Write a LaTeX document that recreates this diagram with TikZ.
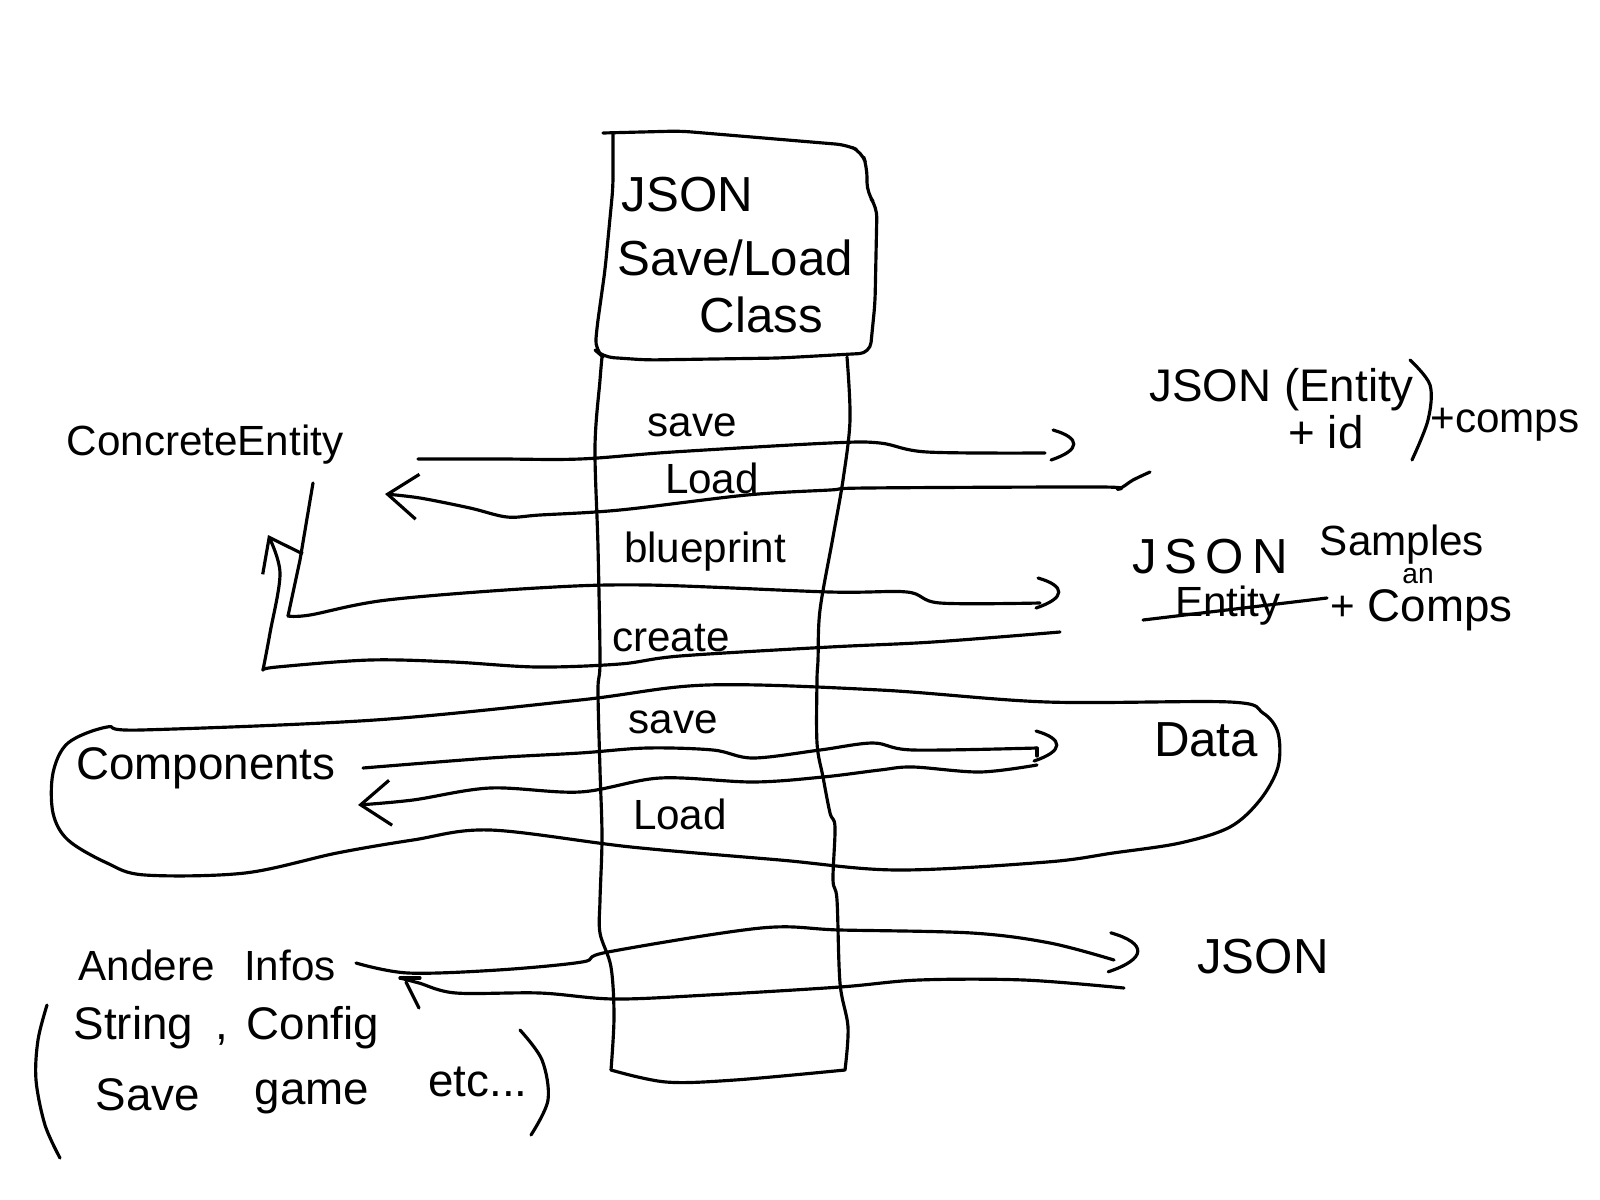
\documentclass[tikz,border=0pt]{standalone}
\usepackage{fontspec}
\setmainfont{Liberation Sans}
\usetikzlibrary{arrows.meta}
\begin{document}
\begin{tikzpicture}[x=0.01cm,y=-0.01cm,line width=0.9pt,line cap=round,line join=round,
  lbl/.style={inner sep=0pt,font=\fontsize{13}{15}\selectfont},
  big/.style={inner sep=0pt,font=\fontsize{14}{16}\selectfont},
  small/.style={inner sep=0pt,font=\fontsize{12}{14}\selectfont},
  tiny/.style={inner sep=0pt,font=\fontsize{8}{9}\selectfont},
  larr/.style={-{Straight Barb[length=3mm,width=4.5mm]}},
  wob/.style={smooth,tension=0.55},
  rhead/.pic={\draw (-24,-14) .. controls (4,-6) and (4,6) .. (-26,16);}]
\useasboundingbox (0,0) rectangle (1600,1200);
\fill[white] (0,0) rectangle (1600,1200);

% ---------- JSON Save/Load class box ----------
\draw[rounded corners=3pt] (603,133) -- (680,131) -- (847,145) -- (862,152) -- (867,167) -- (867,193) -- (877,207) -- (875,303) -- (870,353) -- (780,358) -- (647,360) -- (603,357) -- (595,350) -- (597,327) -- (605,270) -- (613,187) -- (613,135);
\node[big,anchor=west] (tj) at (620,195) {JSON};
\node[big,anchor=west] (ts) at (616,258) {Save/Load};
\node[big,anchor=west] (tc) at (698,315) {Class};

% ---------- column ----------
\draw plot[wob] coordinates {(602,357) (600,380) (595,447) (598,547) (600,660) (598,690) (600,770) (602,837) (600,900) (600,933) (611,967) (614,1017) (611,1070)};
\draw plot[wob] coordinates {(611,1070) (666,1082) (735,1080) (845,1070)};
\draw plot[wob] coordinates {(845,1070) (848,1027) (840,983) (837,900) (833,880) (835,827) (830,813) (823,777) (817,743) (817,680) (818,660) (820,610) (833,537) (843,480) (850,420) (847,357)};

\node[small] (csave1) at (692,425) {save};
\node[small] (cload1) at (712,478) {Load};
\node[small] (cblue) at (705,552) {blueprint};
\node[small] (ccreate) at (671,638) {create};
\node[small] (csave2) at (673,722) {save};
\node[small] (cload2) at (680,814) {Load};

% ---------- left labels ----------
\node[small] (ce) at (205,445) {ConcreteEntity};
\node[lbl] (comp) at (206,768) {Components};
\node[small,anchor=west] (andere) at (77,965) {Andere\hspace{0.7em}Infos};
\node[lbl,anchor=west] (string) at (72,1028) {String\hspace{0.5em},\hspace{0.4em}Config};
\node[lbl] (savew) at (148,1095) {Save};
\node[lbl] (gamew) at (312,1097) {game};
\node[lbl] (etcw) at (478,1082) {etc...};
\draw plot[wob] coordinates {(47,1005) (38,1040) (36,1080) (45,1125) (60,1158)};
\draw plot[wob] coordinates {(520,1030) (542,1060) (548,1100) (531,1135)};

% ---------- right labels ----------
\node[lbl,anchor=west] (je) at (1148,390) {JSON (Entity};
\node[lbl] (jid) at (1326,432) {+ id};
\draw plot[wob] coordinates {(1410,360) (1430,385) (1428,420) (1412,460)};
\node[small] (jcomps) at (1505,425) {+comps};

\node[big] (js) at (1210,557) {J\,S\,O\,N};
\node[small] (samples) at (1402,545) {Samples};
\node[small] (ent) at (1228,606) {Entity};
\draw (1143,620) -- (1327,598);
\node[small] (plus) at (1343,608) {+};
\node[lbl] (comps2) at (1440,610) {Comps};
\node[tiny] (an) at (1418,576) {an};

\node[big] (data) at (1206,740) {Data};
\node[big] (jb) at (1263,957) {JSON};

% ---------- named ends ----------
\coordinate (a1s) at (418,459);
\coordinate (a1e) at (1045,453);
\coordinate (a2s) at (1150,472);
\coordinate (a2e) at (385,494);
\coordinate (a3s) at (313,483);
\coordinate (a3c) at (288,616);
\coordinate (a3e) at (1040,603);
\coordinate (a4s) at (1060,632);
\coordinate (a4c) at (263,670);
\coordinate (a4e) at (268,535);
\coordinate (c1s) at (363,768);
\coordinate (c1e) at (1037,748);
\coordinate (c2s) at (1037,765);
\coordinate (c2e) at (358,805);
\coordinate (o1s) at (356,963);
\coordinate (o1e) at (1114,960);
\coordinate (o2s) at (1124,988);
\coordinate (o2e) at (400,978);

% ---------- connectors ----------
\draw plot[wob] coordinates {(a1s) (500,459) (580,459) (673,452) (830,443) (880,443) (927,452) (a1e)};
\pic at (1077,444) {rhead};
\draw[larr] plot[wob] coordinates {(a2s) (1133,480) (1118,489) (1100,487) (867,488) (830,490) (747,495) (620,510) (540,515) (507,517) (470,508) (420,498) (a2e)};

\draw (a3s) -- (300,560) -- (a3c);
\draw plot[wob] coordinates {(a3c) (310,615) (387,600) (537,588) (647,585) (830,592) (907,592) (940,603) (a3e)};
\pic at (1062,592) {rhead};

\draw plot[wob] coordinates {(a4s) (933,642) (830,647) (680,656) (620,664) (537,667) (453,662) (370,660) (277,667) (a4c)};
\draw[larr] plot[wob] coordinates {(a4c) (270,633) (280,573) (a4e)};

\draw plot[wob] coordinates {(c1s) (490,758) (580,753) (647,748) (713,750) (753,758) (820,750) (873,743) (913,750) (c1e)};
\pic at (1060,745) {rhead};
\draw (c1e) -- (1037,756);
\draw[larr] plot[wob] coordinates {(c2s) (980,772) (913,767) (880,770) (823,777) (753,782) (660,778) (580,792) (490,788) (413,800) (c2e)};

% loop around Components / Data
\draw plot[smooth cycle,tension=0.55] coordinates {(107,727) (141,730) (375,720) (580,700) (707,685) (880,690) (1047,702) (1230,702) (1263,713) (1278,733) (1278,767) (1260,800) (1230,827) (1180,843) (1113,853) (1047,862) (897,870) (780,860) (631,847) (490,830) (413,840) (337,853) (245,873) (145,875) (107,863) (68,840) (53,813) (53,773) (68,743)};

\draw plot[wob] coordinates {(o1s) (408,973) (498,970) (582,962) (608,952) (761,928) (840,930) (972,933) (1050,943) (o1e)};
\pic[scale=1.3] at (1142,951) {rhead};
\draw plot[wob] coordinates {(o2s) (1024,980) (919,980) (840,987) (708,995) (614,999) (540,993) (456,993) (419,983) (o2e)};
\draw (o2e) -- (420,978);
\draw (406,982) -- (419,1008);
\end{tikzpicture}
\end{document}
